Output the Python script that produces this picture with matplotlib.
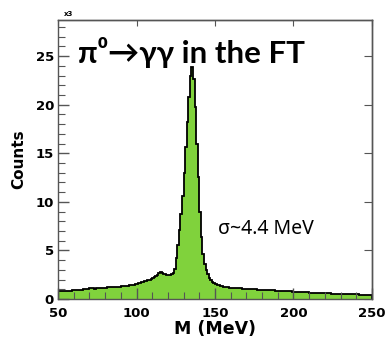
import numpy as np
import matplotlib
matplotlib.use("Agg")
import matplotlib.pyplot as plt
from matplotlib.ticker import MultipleLocator

# invariant mass spectrum, 1 MeV bins from 50 to 250 MeV, counts in units of 10^3
bin_edges = np.arange(50, 251, 1)
counts = [
    0.78, 0.79, 0.80, 0.82, 0.83, 0.84, 0.85, 0.86, 0.88, 0.89,   # 50
    0.90, 0.92, 0.93, 0.95, 0.96, 0.98, 1.00, 1.02, 1.04, 1.07,   # 60
    1.10, 1.11, 1.09, 1.08, 1.10, 1.12, 1.13, 1.14, 1.15, 1.17,   # 70
    1.18, 1.19, 1.20, 1.20, 1.21, 1.23, 1.24, 1.26, 1.27, 1.29,   # 80
    1.31, 1.33, 1.35, 1.37, 1.38, 1.40, 1.43, 1.46, 1.49, 1.53,   # 90
    1.57, 1.61, 1.66, 1.71, 1.76, 1.81, 1.87, 1.93, 2.00, 2.08,   # 100
    2.16, 2.25, 2.35, 2.46, 2.70, 2.74, 2.66, 2.58, 2.55, 2.52,   # 110
    2.50, 2.50, 2.55, 2.70, 3.10, 4.20, 5.60, 7.10, 8.80, 10.6,   # 120
    13.0, 15.6, 18.2, 20.8, 22.9, 23.9, 22.6, 19.8, 16.0, 12.6,   # 130
    9.00, 6.40, 4.60, 3.60, 3.00, 2.55, 2.20, 1.95, 1.78, 1.65,   # 140
    1.55, 1.48, 1.42, 1.37, 1.33, 1.29, 1.26, 1.23, 1.20, 1.18,   # 150
    1.16, 1.14, 1.13, 1.12, 1.11, 1.10, 1.09, 1.08, 1.07, 1.06,   # 160
    1.05, 1.04, 1.03, 1.02, 1.01, 1.00, 0.99, 0.98, 0.97, 0.96,   # 170
    0.95, 0.94, 0.94, 0.93, 0.92, 0.91, 0.90, 0.89, 0.88, 0.87,   # 180
    0.86, 0.85, 0.84, 0.83, 0.82, 0.81, 0.80, 0.79, 0.78, 0.77,   # 190
    0.76, 0.75, 0.74, 0.74, 0.73, 0.72, 0.71, 0.70, 0.69, 0.68,   # 200
    0.67, 0.67, 0.66, 0.65, 0.64, 0.63, 0.63, 0.62, 0.61, 0.60,   # 210
    0.60, 0.59, 0.58, 0.58, 0.57, 0.56, 0.56, 0.55, 0.54, 0.54,   # 220
    0.53, 0.53, 0.52, 0.51, 0.51, 0.50, 0.50, 0.49, 0.49, 0.48,   # 230
    0.47, 0.47, 0.46, 0.46, 0.45, 0.45, 0.44, 0.44, 0.43, 0.42,   # 240
]

title = "π⁰→γγ in the FT"
resolution = "σ~4.4 MeV"

fig = plt.figure(figsize=(3.87, 3.41), dpi=100)
ax = fig.add_axes([0.150, 0.123, 0.811, 0.818])

ax.stairs(counts, bin_edges, fill=True, color="#80d23c")
ax.stairs(counts, bin_edges, color="black", lw=1.3)

ax.set_xlim(50, 250)
ax.set_ylim(0, 28.7)

# ROOT style ticks: inward, major only on top/right
ax.xaxis.set_major_locator(MultipleLocator(50))
ax.xaxis.set_minor_locator(MultipleLocator(10))
ax.yaxis.set_major_locator(MultipleLocator(5))
ax.yaxis.set_minor_locator(MultipleLocator(1))
ax.tick_params(which="both", direction="in", top=False, right=False,
               colors="#555555", labelcolor="black")
ax.tick_params(which="major", length=8, width=1)
ax.tick_params(which="minor", length=5, width=0.8)
sec_x = ax.secondary_xaxis("top")
sec_x.xaxis.set_major_locator(MultipleLocator(50))
sec_x.tick_params(direction="in", length=4, labeltop=False, colors="#555555")
sec_y = ax.secondary_yaxis("right")
sec_y.yaxis.set_major_locator(MultipleLocator(5))
sec_y.tick_params(direction="in", length=6, labelright=False, colors="#555555")
for s in list(ax.spines.values()) + [sec_x.spines["top"], sec_y.spines["right"]]:
    s.set_color("#555555")
    s.set_linewidth(1)

for lab in ax.get_xticklabels() + ax.get_yticklabels():
    lab.set_fontweight("bold")
    lab.set_fontsize(9.5)
ax.tick_params(axis="x", pad=5.5)
ax.tick_params(axis="y", pad=3)

ax.set_xlabel("M (MeV)", fontsize=12.5, fontweight="bold", labelpad=0)
ax.set_ylabel("Counts", fontsize=11, fontweight="bold", labelpad=7)
ax.text(0.02, 1.01, "x3", transform=ax.transAxes, fontsize=5,
        fontweight="bold", ha="left", va="bottom")

ax.text(0.064, 0.846, title, transform=ax.transAxes, fontsize=22.5,
        fontweight="bold", family=["Lato", "DejaVu Sans"],
        ha="left", va="baseline")
ax.text(0.51, 0.233, resolution, transform=ax.transAxes, fontsize=14,
        family=["Noto Sans", "DejaVu Sans"], ha="left", va="baseline")

fig.savefig("out.png", dpi=100)
